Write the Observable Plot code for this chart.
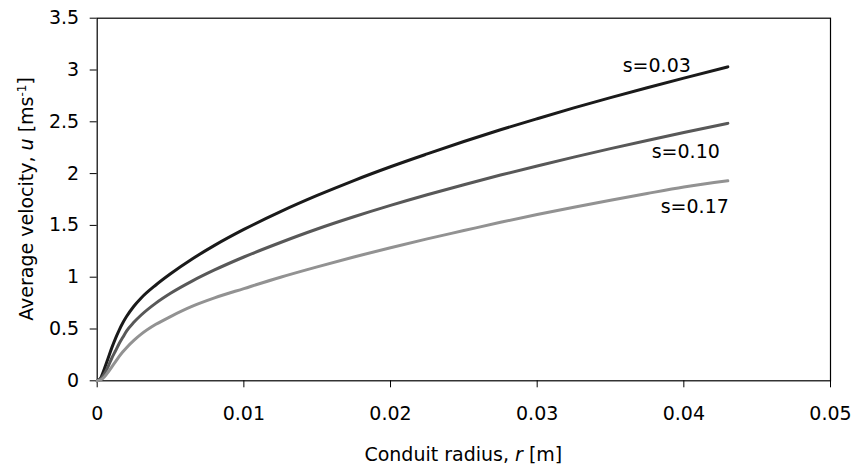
<!DOCTYPE html>
<html>
<head>
<meta charset="utf-8">
<script src="https://cdn.jsdelivr.net/npm/d3@7"></script>
<script src="https://cdn.jsdelivr.net/npm/@observablehq/plot@0.6"></script>
<style>
  html, body { margin: 0; padding: 0; background: #fff; }
  #chart svg { display: block; }
</style>
</head>
<body>
<div id="chart"></div>
<script>
// Conduit radius r [m]
const radius = [0, 0.00025, 0.0005, 0.00075, 0.001, 0.00125, 0.0015, 0.00175, 0.002, 0.0025, 0.003, 0.004, 0.005, 0.0065, 0.008, 0.01, 0.0125, 0.015, 0.0175, 0.02, 0.0225, 0.025, 0.0275, 0.03, 0.0325, 0.035, 0.0375, 0.04, 0.043];
// Average velocity u [m/s] for each slope s
const velS003 = [0, 0.03, 0.12, 0.22, 0.32, 0.41, 0.49, 0.56, 0.62, 0.72, 0.80, 0.925, 1.033, 1.178, 1.307, 1.461, 1.633, 1.789, 1.933, 2.066, 2.19, 2.31, 2.423, 2.53, 2.634, 2.733, 2.829, 2.922, 3.03];
const velS010 = [0, 0.02, 0.07, 0.14, 0.22, 0.29, 0.36, 0.42, 0.48, 0.565, 0.635, 0.75, 0.845, 0.965, 1.07, 1.195, 1.335, 1.465, 1.583, 1.693, 1.796, 1.893, 1.986, 2.074, 2.159, 2.241, 2.32, 2.396, 2.485];
const velS017 = [0, 0.01, 0.04, 0.085, 0.135, 0.185, 0.235, 0.28, 0.32, 0.39, 0.45, 0.545, 0.62, 0.72, 0.80, 0.89, 1.00, 1.10, 1.195, 1.285, 1.37, 1.45, 1.53, 1.605, 1.675, 1.743, 1.808, 1.87, 1.93];
const seriesNames = ["s=0.03", "s=0.10", "s=0.17"];
const xTicks = [0, 0.01, 0.02, 0.03, 0.04, 0.05];
const yTicks = [0, 0.5, 1, 1.5, 2, 2.5, 3, 3.5];

const seriesValues = [velS003, velS010, velS017];
const colors = ["#1a1a1a", "#585858", "#929292"];
const rows = [];
seriesValues.forEach((vals, i) => {
  vals.forEach((v, j) => rows.push({s: seriesNames[i], r: radius[j], u: v}));
});
const ends = seriesNames.map((name, i) => ({s: name, r: radius[radius.length - 1], u: seriesValues[i][seriesValues[i].length - 1]}));

const font = "'DejaVu Sans', sans-serif";
const W = 852, H = 465;
const plot = Plot.plot({
  width: W,
  height: H,
  marginLeft: 96.7,
  marginRight: 22,
  marginTop: 17.7,
  marginBottom: 84.7,
  style: {fontFamily: font, fontSize: "19px", color: "#000", background: "#fff"},
  x: {domain: [0, 0.05], ticks: xTicks, tickFormat: d => String(d), tickSize: 7, tickPadding: 19, label: null},
  y: {domain: [0, 3.5], ticks: yTicks, tickFormat: d => String(d), tickSize: 7, tickPadding: 11, label: null},
  color: {domain: seriesNames, range: colors},
  marks: [
    Plot.frame({stroke: "#000", strokeWidth: 1.2}),
    Plot.line(rows, {x: "r", y: "u", z: "s", stroke: "s", strokeWidth: 3, curve: "monotone-x"}),
    Plot.text(ends.slice(0,1), {x: "r", y: "u", text: "s", textAnchor: "end", dx: -37, dy: -1, fontSize: 19, fill: "#000"}),
    Plot.text(ends.slice(1,2), {x: "r", y: "u", text: "s", textAnchor: "end", dx: -8, dy: 29, fontSize: 19, fill: "#000"}),
    Plot.text(ends.slice(2,3), {x: "r", y: "u", text: "s", textAnchor: "end", dx: 1, dy: 26, fontSize: 19, fill: "#000"})
  ]
});
document.getElementById("chart").appendChild(plot);

// axis titles with italic variable and superscript
const svg = d3.select(plot);
const xt = svg.append("text")
  .attr("x", (96.7 + (W - 22)) / 2)
  .attr("y", 461)
  .attr("text-anchor", "middle")
  .style("font-family", font).style("font-size", "19px").attr("fill", "#000");
xt.append("tspan").text("Conduit radius, ");
xt.append("tspan").attr("font-style", "italic").text("r");
xt.append("tspan").text(" [m]");

const yt = svg.append("text")
  .attr("transform", `translate(33, ${(17.7 + 380.3) / 2}) rotate(-90)`)
  .attr("text-anchor", "middle")
  .style("font-family", font).style("font-size", "19px").attr("fill", "#000");
yt.append("tspan").text("Average velocity, ");
yt.append("tspan").attr("font-style", "italic").text("u");
yt.append("tspan").text(" [ms");
yt.append("tspan").attr("font-size", "12px").attr("dy", "-0.6em").text("-1");
yt.append("tspan").attr("dy", "0.35em").text("]");
</script>
</body>
</html>
